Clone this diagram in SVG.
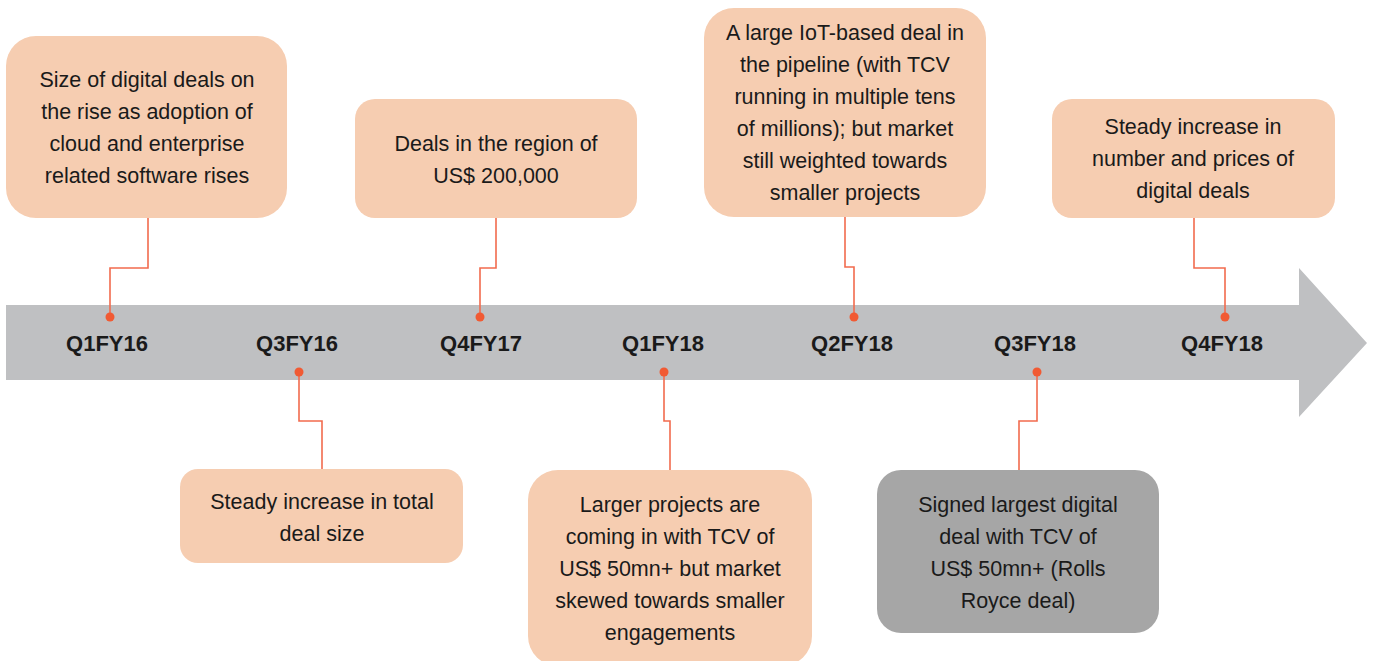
<svg xmlns="http://www.w3.org/2000/svg" width="1376" height="661" viewBox="0 0 1376 661">
  <style>
    .box { fill: #F6CDB1; }
    .box-dark { fill: #A6A6A6; }
    .txt { font-family: "Liberation Sans", Arial, sans-serif; font-size: 21.5px; fill: #1A1A1A; text-anchor: middle; }
    .qtr { font-family: "Liberation Sans", Arial, sans-serif; font-size: 22px; font-weight: bold; fill: #1A1A1A; text-anchor: middle; }
    .link { fill: none; stroke: #F26B4E; stroke-width: 1.6; }
    .dot { fill: #F15A33; }
  </style>

  <rect width="1376" height="661" fill="#FFFFFF"/>

  <!-- timeline arrow -->
  <polygon id="timeline" points="6,305 1299,305 1299,268 1367,343 1299,417 1299,380 6,380" fill="#BFC0C2"/>

  <!-- quarter labels -->
  <g id="quarters">
    <text class="qtr" x="107" y="351">Q1FY16</text>
    <text class="qtr" x="297" y="351">Q3FY16</text>
    <text class="qtr" x="481" y="351">Q4FY17</text>
    <text class="qtr" x="663" y="351">Q1FY18</text>
    <text class="qtr" x="852" y="351">Q2FY18</text>
    <text class="qtr" x="1035" y="351">Q3FY18</text>
    <text class="qtr" x="1222" y="351">Q4FY18</text>
  </g>

  <!-- connectors from callouts to the timeline -->
  <g id="connectors">
    <polyline class="link" points="148,218 148,268 110,268 110,317"/>
    <polyline class="link" points="299,372 299,421 322,421 322,469"/>
    <polyline class="link" points="496,218 496,268 480,268 480,317"/>
    <polyline class="link" points="664,372 664,421 670,421 670,470"/>
    <polyline class="link" points="845,217 845,267 854,267 854,317"/>
    <polyline class="link" points="1037,372 1037,421 1019,421 1019,470"/>
    <polyline class="link" points="1194,218 1194,268 1225,268 1225,317"/>
    <circle class="dot" cx="110" cy="317" r="4.5"/>
    <circle class="dot" cx="299" cy="372" r="4.5"/>
    <circle class="dot" cx="480" cy="317" r="4.5"/>
    <circle class="dot" cx="664" cy="372" r="4.5"/>
    <circle class="dot" cx="854" cy="317" r="4.5"/>
    <circle class="dot" cx="1037" cy="372" r="4.5"/>
    <circle class="dot" cx="1225" cy="317" r="4.5"/>
  </g>

  <g id="q1fy16">
    <rect class="box" x="6" y="36" width="281" height="182" rx="30"/>
    <text class="txt" x="147" y="87">Size of digital deals on</text>
    <text class="txt" x="147" y="119">the rise as adoption of</text>
    <text class="txt" x="147" y="151">cloud and enterprise</text>
    <text class="txt" x="147" y="183">related software rises</text>
  </g>

  <g id="q3fy16">
    <rect class="box" x="180" y="469" width="283" height="94" rx="18"/>
    <text class="txt" x="322" y="509">Steady increase in total</text>
    <text class="txt" x="322" y="541">deal size</text>
  </g>

  <g id="q4fy17">
    <rect class="box" x="355" y="99" width="282" height="119" rx="20"/>
    <text class="txt" x="496" y="151">Deals in the region of</text>
    <text class="txt" x="496" y="183">US$ 200,000</text>
  </g>

  <g id="q1fy18">
    <rect class="box" x="528" y="470" width="284" height="196" rx="30"/>
    <text class="txt" x="670" y="512">Larger projects are</text>
    <text class="txt" x="670" y="544">coming in with TCV of</text>
    <text class="txt" x="670" y="576">US$ 50mn+ but market</text>
    <text class="txt" x="670" y="608">skewed towards smaller</text>
    <text class="txt" x="670" y="640">engagements</text>
  </g>

  <g id="q2fy18">
    <rect class="box" x="704" y="8" width="282" height="209" rx="30"/>
    <text class="txt" x="845" y="40">A large IoT-based deal in</text>
    <text class="txt" x="845" y="72">the pipeline (with TCV</text>
    <text class="txt" x="845" y="104">running in multiple tens</text>
    <text class="txt" x="845" y="136">of millions); but market</text>
    <text class="txt" x="845" y="168">still weighted towards</text>
    <text class="txt" x="845" y="200">smaller projects</text>
  </g>

  <g id="q3fy18">
    <rect class="box-dark" x="877" y="470" width="282" height="163" rx="24"/>
    <text class="txt" x="1018" y="512">Signed largest digital</text>
    <text class="txt" x="1018" y="544">deal with TCV of</text>
    <text class="txt" x="1018" y="576">US$ 50mn+ (Rolls</text>
    <text class="txt" x="1018" y="608">Royce deal)</text>
  </g>

  <g id="q4fy18">
    <rect class="box" x="1052" y="99" width="283" height="119" rx="20"/>
    <text class="txt" x="1193" y="134">Steady increase in</text>
    <text class="txt" x="1193" y="166">number and prices of</text>
    <text class="txt" x="1193" y="198">digital deals</text>
  </g>
</svg>
